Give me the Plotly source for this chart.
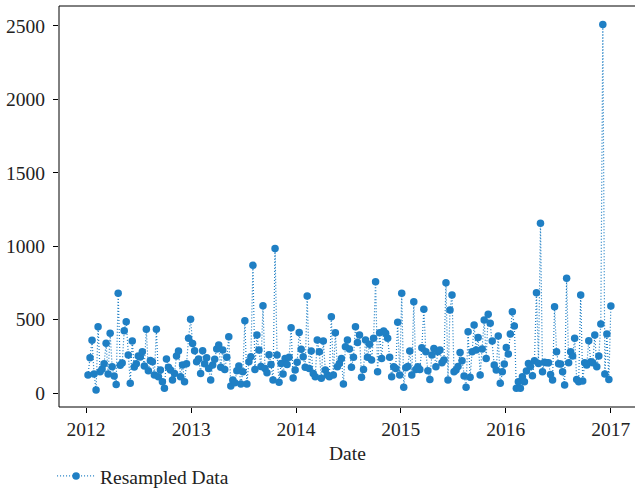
import pandas as pd
import plotly.graph_objects as go

# Weekly resampled values, Sundays from 2012-01-08 to 2017-01-01
week_end_first = "2012-01-08"
weekly_values = [
    123, 241, 360, 129, 20, 452, 145, 163, 200, 340,
    129, 408, 179, 116, 59, 679, 190, 204, 424, 486,
    259, 66, 354, 177, 200, 252, 245, 281, 184, 434,
    152, 222, 213, 123, 434, 111, 157, 77, 32, 232,
    175, 157, 89, 134, 252, 286, 111, 191, 77, 200,
    373, 502, 338, 288, 213, 232, 134, 288, 200, 240,
    168, 89, 191, 230, 300, 327, 175, 293, 160, 243,
    384, 48, 89, 70, 152, 184, 61, 145, 493, 61,
    213, 247, 870, 160, 395, 293, 180, 595, 168, 138,
    260, 195, 89, 985, 259, 73, 202, 129, 236, 195,
    243, 445, 102, 157, 209, 413, 298, 247, 175, 661,
    168, 286, 134, 111, 361, 281, 100, 354, 157, 123,
    111, 520, 123, 411, 179, 202, 236, 61, 315, 361,
    300, 175, 243, 452, 345, 395, 107, 161, 361, 243,
    332, 225, 373, 758, 145, 411, 236, 422, 407, 373,
    243, 111, 179, 168, 482, 123, 679, 39, 172, 180,
    286, 123, 622, 161, 179, 161, 309, 570, 281, 152,
    93, 259, 304, 179, 281, 293, 206, 225, 751, 89,
    565, 668, 145, 157, 180, 277, 220, 116, 39, 418,
    107, 281, 463, 293, 379, 123, 300, 497, 236, 536,
    475, 354, 191, 157, 388, 66, 145, 198, 311, 266,
    402, 554, 456, 32, 77, 32, 111, 77, 150, 202,
    180, 118, 220, 683, 202, 1156, 145, 209, 206, 206,
    127, 89, 588, 281, 200, 198, 145, 54, 781, 206,
    281, 252, 373, 93, 77, 668, 82, 206, 191, 356,
    213, 206, 395, 179, 252, 470, 2510, 129, 402, 93,
    593,
]
dates = pd.date_range(week_end_first, periods=len(weekly_values), freq="W-SUN")

x_tick_years = ["2012", "2013", "2014", "2015", "2016", "2017"]
y_tick_values = [0, 500, 1000, 1500, 2000, 2500]
x_axis_title = "Date"

blue = "#1f7fc4"
font_family = "Liberation Serif, Times New Roman, serif"
text_color = "#222"
label_size = 19.5

fig = go.Figure(
    go.Scatter(
        x=dates,
        y=weekly_values,
        mode="lines+markers",
        name="Resampled Data",
        line=dict(color=blue, width=1.2, dash="1px,2px"),
        marker=dict(color=blue, size=7.5),
    )
)

axis_common = dict(
    showgrid=False,
    zeroline=False,
    showline=False,
    ticks="outside",
    ticklen=5,
    tickwidth=1,
    tickcolor="black",
    automargin=False,
    tickfont=dict(family=font_family, size=label_size, color=text_color),
)

# Open frame: left, top and bottom edges of the plotting area
frame_edges = [
    dict(x0=0, x1=0, y0=0, y1=1),
    dict(x0=0, x1=1, y0=1, y1=1),
    dict(x0=0, x1=1, y0=0, y1=0),
]
shapes = [
    dict(type="line", xref="paper", yref="paper", line=dict(color="black", width=1), **edge)
    for edge in frame_edges
]

fig.update_layout(
    width=635,
    height=491,
    margin=dict(l=59, r=0, t=6, b=84),
    paper_bgcolor="white",
    plot_bgcolor="white",
    font=dict(family=font_family, size=label_size, color=text_color),
    showlegend=True,
    shapes=shapes,
    annotations=[
        dict(
            text=x_axis_title,
            xref="paper",
            yref="paper",
            x=0.5,
            y=-0.115,
            xanchor="center",
            yanchor="middle",
            showarrow=False,
            font=dict(family=font_family, size=label_size, color=text_color),
        )
    ],
    legend=dict(
        xref="container",
        yref="container",
        x=0.082,
        y=0.03,
        xanchor="left",
        yanchor="middle",
        orientation="h",
        itemwidth=38,
        font=dict(family=font_family, size=label_size, color=text_color),
        bgcolor="rgba(0,0,0,0)",
    ),
    xaxis=dict(
        axis_common,
        type="date",
        range=["2011-09-29", "2017-03-26"],
        tickvals=[f"{y}-01-01" for y in x_tick_years],
        ticktext=x_tick_years,
    ),
    yaxis=dict(
        axis_common,
        range=[-95, 2636],
        tickvals=y_tick_values,
        ticktext=[str(v) for v in y_tick_values],
        ticklabelstandoff=4,
    ),
)

fig.write_html("out.html")
